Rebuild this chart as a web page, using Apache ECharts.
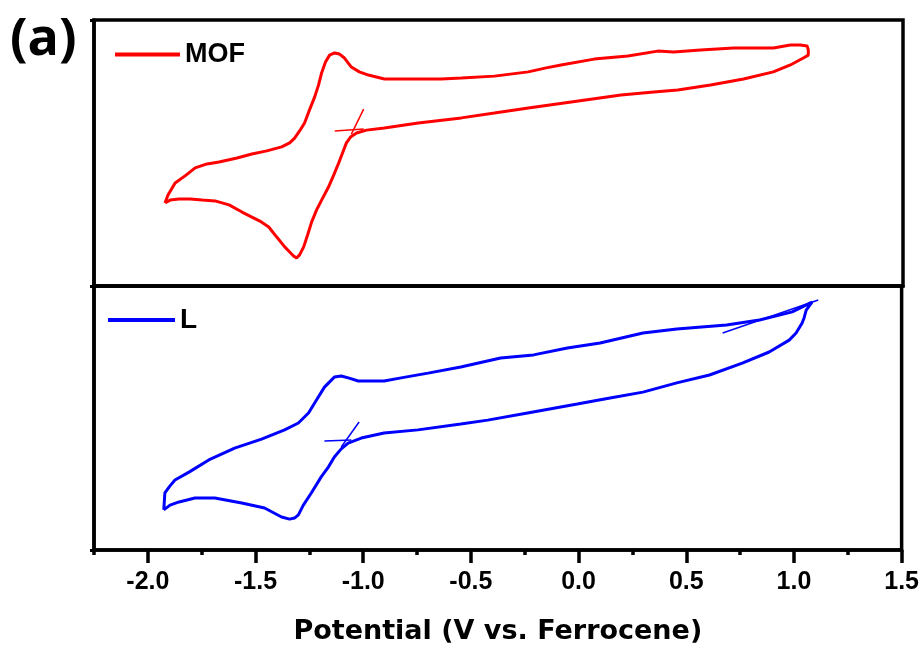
<!DOCTYPE html>
<html>
<head>
<meta charset="utf-8">
<script src="https://cdn.jsdelivr.net/npm/echarts@6/dist/echarts.min.js"></script>
<style>html,body{margin:0;padding:0;background:#fff}#c{width:922px;height:648px}</style>
</head>
<body>
<div id="c"></div>
<script>
// ---- data (current in arbitrary units) ----
const xTickLabels = [-2.0, -1.5, -1.0, -0.5, 0.0, 0.5, 1.0, 1.5];
const xMinorTicks = [-2.25, -1.75, -1.25, -0.75, -0.25, 0.25, 0.75, 1.25];

const mofPotential = [-1.921,-1.907,-1.874,-1.828,-1.781,-1.726,-1.670,-1.587,-1.518,-1.449,-1.380,-1.343,-1.320,-1.297,-1.274,-1.251,-1.227,-1.209,-1.195,-1.177,-1.158,-1.135,-1.112,-1.089,-1.057,-1.020,-0.978,-0.904,-0.826,-0.747,-0.641,-0.547,-0.394,-0.237,-0.154,-0.085,0.068,0.225,0.363,0.437,0.562,0.715,0.899,0.978,1.024,1.056,1.061,1.061,
  1.038,0.978,0.899,0.761,0.608,0.456,0.345,0.193,-0.038,-0.237,-0.394,-0.547,-0.747,-0.904,-0.987,-1.033,-1.061,-1.080,-1.098,-1.116,-1.139,-1.163,-1.195,-1.218,-1.241,-1.260,-1.278,-1.297,-1.311,-1.325,-1.343,-1.366,-1.403,-1.440,-1.481,-1.518,-1.564,-1.624,-1.689,-1.749,-1.804,-1.856,-1.897,-1.921];
const mofCurrent = [3.12,3.42,3.87,4.14,4.44,4.59,4.66,4.81,4.96,5.08,5.23,5.38,5.56,5.83,6.13,6.62,7.11,7.56,8.01,8.42,8.68,8.76,8.72,8.57,8.23,8.05,7.93,7.78,7.78,7.78,7.78,7.82,7.89,8.05,8.20,8.31,8.53,8.65,8.83,8.80,8.87,8.95,8.95,9.06,9.06,9.02,8.87,8.68,
  8.57,8.31,8.05,7.78,7.56,7.37,7.29,7.18,6.92,6.69,6.50,6.32,6.13,5.94,5.86,5.75,5.60,5.38,5.00,4.62,4.17,3.72,3.23,2.86,2.41,1.92,1.47,1.17,1.05,1.13,1.28,1.47,1.84,2.22,2.44,2.59,2.78,3.05,3.20,3.23,3.27,3.27,3.23,3.12];
const mofMarkA = [[-1.134, 5.83], [-1.000, 5.90]];
const mofMarkB = [[-1.057, 5.71], [-1.000, 6.65]];

const lPotential = [-1.926,-1.921,-1.898,-1.874,-1.809,-1.717,-1.597,-1.472,-1.365,-1.301,-1.254,-1.217,-1.180,-1.134,-1.102,-1.069,-1.023,-0.903,-0.824,-0.699,-0.547,-0.362,-0.209,-0.052,0.100,0.299,0.456,0.687,0.840,0.992,1.084,
  1.057,1.047,1.038,1.010,0.978,0.885,0.760,0.608,0.456,0.299,0.146,-0.006,-0.237,-0.422,-0.547,-0.746,-0.903,-1.009,-1.070,-1.102,-1.134,-1.162,-1.195,-1.241,-1.278,-1.301,-1.319,-1.342,-1.379,-1.458,-1.564,-1.689,-1.781,-1.855,-1.897,-1.926];
const lCurrent = [1.52,2.16,2.42,2.65,2.95,3.41,3.86,4.20,4.55,4.81,5.19,5.68,6.17,6.55,6.59,6.52,6.40,6.40,6.52,6.70,6.93,7.27,7.39,7.65,7.84,8.22,8.37,8.52,8.71,9.02,9.39,
  9.09,8.79,8.60,8.22,7.95,7.50,7.08,6.63,6.33,5.98,5.76,5.53,5.19,4.92,4.77,4.55,4.43,4.24,4.05,3.83,3.52,3.14,2.77,2.16,1.70,1.33,1.21,1.17,1.25,1.59,1.78,1.97,1.97,1.82,1.70,1.52];
const lMarkA = [[-1.180, 4.13], [-1.055, 4.17]];
const lMarkB = [[-1.102, 3.90], [-1.019, 4.85]];
const lMarkC = [[0.669, 8.22], [1.113, 9.47]];

// ---- build ----
const pairs = (xs, ys) => xs.map((x, i) => [x, ys[i]]);
const RED = '#ff0000', BLUE = '#0000ff';
const FONT = '"Liberation Sans", Arial, sans-serif';

const chart = echarts.init(document.getElementById('c'), null, {renderer: 'canvas'});

const gridCommon = {left: 94, right: 19, show: true, borderColor: '#000', borderWidth: 3.5, backgroundColor: 'transparent'};
const lineSeries = (name, data, c, gi) => ({
  name, type: 'line', data, xAxisIndex: gi, yAxisIndex: gi,
  showSymbol: false, symbol: 'none', smooth: false, lineStyle: {color: c, width: 3}, itemStyle: {color: c},
  animation: false, z: 3
});
const markSeries = (name, data, c, gi) => ({
  name, type: 'line', data, xAxisIndex: gi, yAxisIndex: gi,
  showSymbol: false, symbol: 'none', lineStyle: {color: c, width: 1.5}, itemStyle: {color: c},
  animation: false, z: 3
});

const yAx = gi => ({
  type: 'value', gridIndex: gi, min: 0, max: 10, interval: 10,
  axisLine: {show: true, onZero: false, lineStyle: {color: '#000', width: 3.5}},
  axisTick: {show: true, inside: false, length: 4, lineStyle: {color: '#000', width: 3}},
  axisLabel: {show: false}, splitLine: {show: false}
});

chart.setOption({
  backgroundColor: '#fff',
  animation: false,
  grid: [
    Object.assign({top: 20, height: 266}, gridCommon),
    Object.assign({top: 286, height: 264}, gridCommon)
  ],
  xAxis: [
    {type: 'value', gridIndex: 0, min: -2.25, max: 1.5,
     axisLine: {show: true, onZero: false, lineStyle: {color: '#000', width: 3.5}},
     axisTick: {show: false}, axisLabel: {show: false}, splitLine: {show: false}},
    {type: 'value', gridIndex: 1, min: -2.25, max: 1.5, position: 'bottom',
     axisLine: {show: true, onZero: false, lineStyle: {color: '#000', width: 3.5}},
     axisTick: {show: true, inside: false, length: 13, customValues: xTickLabels, lineStyle: {color: '#000', width: 3.5}},
     axisLabel: {show: true, customValues: xTickLabels, margin: 20,
       formatter: v => v.toFixed(1),
       fontFamily: FONT, fontWeight: 'bold', fontSize: 25, color: '#000'},
     splitLine: {show: false},
     name: 'Potential (V vs. Ferrocene)', nameLocation: 'middle', nameGap: 68,
     nameTextStyle: {fontFamily: '"DejaVu Sans", sans-serif', fontWeight: 'bold', fontSize: 27, color: '#000'}},
    {type: 'value', gridIndex: 1, min: -2.25, max: 1.5, position: 'bottom',
     axisLine: {show: false, onZero: false},
     axisTick: {show: true, inside: false, length: 5, customValues: xMinorTicks, lineStyle: {color: '#000', width: 3.5}},
     axisLabel: {show: false}, splitLine: {show: false}}
  ],
  yAxis: [yAx(0), yAx(1)],
  legend: [
    {data: ['MOF'], left: 110, top: 36, icon: 'rect', itemWidth: 65, itemHeight: 4, itemGap: 6,
     textStyle: {fontFamily: FONT, fontWeight: 'bold', fontSize: 27, color: '#000'}, selectedMode: false},
    {data: ['L'], left: 103, top: 301, icon: 'rect', itemWidth: 67, itemHeight: 4, itemGap: 6,
     textStyle: {fontFamily: FONT, fontWeight: 'bold', fontSize: 28, color: '#000'}, selectedMode: false}
  ],
  graphic: [
    {type: 'text', left: 10, top: 14,
     style: {text: '(a)', font: 'bold 52px "Open Sans", sans-serif', fill: '#000'}}
  ],
  series: [
    lineSeries('MOF', pairs(mofPotential, mofCurrent), RED, 0),
    markSeries('MOF', mofMarkA, RED, 0),
    markSeries('MOF', mofMarkB, RED, 0),
    lineSeries('L', pairs(lPotential, lCurrent), BLUE, 1),
    markSeries('L', lMarkA, BLUE, 1),
    markSeries('L', lMarkB, BLUE, 1),
    markSeries('L', lMarkC, BLUE, 1)
  ]
});
</script>
</body>
</html>
